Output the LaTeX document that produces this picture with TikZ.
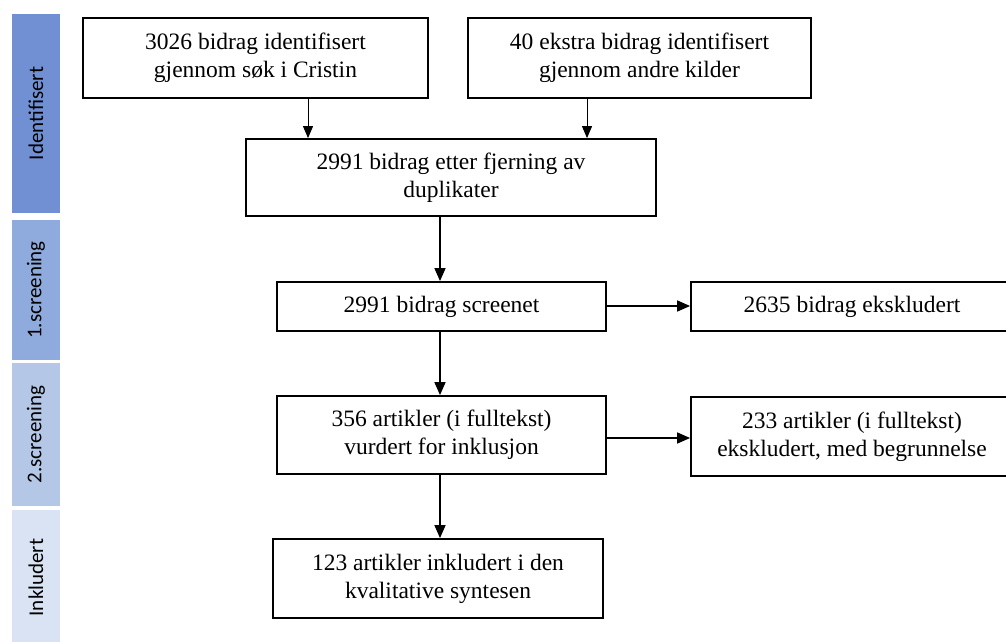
\documentclass[tikz,border=0pt]{standalone}
\usepackage{fontspec}
\setmainfont{Liberation Serif}
\newfontfamily\barfont{Carlito}
\usetikzlibrary{arrows.meta}
\definecolor{barA}{HTML}{7090D3}
\definecolor{barB}{HTML}{8FAADC}
\definecolor{barC}{HTML}{B4C7E7}
\definecolor{barD}{HTML}{DAE3F3}
\tikzset{
  x=1pt, y=-1pt,
  box/.style={draw, line width=1.8pt, fill=white, align=center, inner sep=0pt,
    font=\fontsize{23.5}{28}\selectfont},
  bar/.style={minimum width=48pt, inner sep=0pt, font=\barfont\fontsize{21}{22}\selectfont},
  arr/.style={-{Triangle[length=13pt,width=11pt]}, line width=1.5pt},
  arrthin/.style={-{Triangle[length=12pt,width=10pt]}, line width=1pt},
}
\begin{document}
\begin{tikzpicture}
\useasboundingbox (0,0) rectangle (1006,641);
% sidebar
\node[bar, fill=barA, minimum height=199pt] (s1) at (36,113.5) {\rotatebox{90}{Identifisert}};
\node[bar, fill=barB, minimum height=140pt] (s2) at (36,290) {\rotatebox{90}{1.screening}};
\node[bar, fill=barC, minimum height=143pt] (s3) at (36,434.5) {\rotatebox{90}{2.screening}};
\node[bar, fill=barD, minimum height=135pt] (s4) at (36,577.5) {\rotatebox{90}{Inkludert}};
% boxes
\node[box, minimum width=345pt, minimum height=80pt] (A) at (255.5,58) {3026 bidrag identifisert\\gjennom søk i Cristin};
\node[box, minimum width=343pt, minimum height=80pt] (B) at (639.5,58) {40 ekstra bidrag identifisert\\gjennom andre kilder};
\node[box, minimum width=410pt, minimum height=77pt] (C) at (451,177.5) {2991 bidrag etter fjerning av\\duplikater};
\node[box, minimum width=329pt, minimum height=49pt] (D) at (441.5,306.5) {2991 bidrag screenet};
\node[box, minimum width=322pt, minimum height=49pt] (E) at (852,306.5) {2635 bidrag ekskludert};
\node[box, minimum width=329pt, minimum height=78pt] (F) at (441.5,435) {356 artikler (i fulltekst)\\vurdert for inklusjon};
\node[box, minimum width=322pt, minimum height=79pt] (G) at (852,436.5) {233 artikler (i fulltekst)\\ekskludert, med begrunnelse};
\node[box, minimum width=330pt, minimum height=79pt] (H) at (438,578.5) {123 artikler inkludert i den\\kvalitative syntesen};
% arrow positions
\coordinate (xa) at (308,0);
\coordinate (xb) at (587,0);
\coordinate (xm) at (440,0);
\coordinate (yd) at (0,306);
\coordinate (yf) at (0,438);
\draw[arrthin] (A.south -| xa) -- (C.north -| xa);
\draw[arrthin] (B.south -| xb) -- (C.north -| xb);
\draw[arr] (C.south -| xm) -- (D.north -| xm);
\draw[arr] (D.south -| xm) -- (F.north -| xm);
\draw[arr] (F.south -| xm) -- (H.north -| xm);
\draw[arr] (D.east |- yd) -- (E.west |- yd);
\draw[arr] (F.east |- yf) -- (G.west |- yf);
\end{tikzpicture}
\end{document}
